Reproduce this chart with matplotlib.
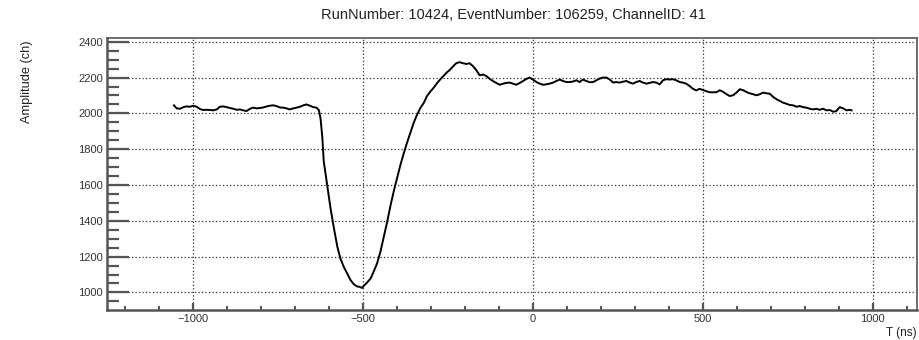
import matplotlib
matplotlib.use("Agg")
import matplotlib.pyplot as plt
from matplotlib.ticker import MultipleLocator

plt.rcParams['font.family'] = ['Liberation Sans', 'DejaVu Sans']

# ---- data ----
t_base = [-1057, -1049, -1039, -1029, -1020, -1010, -1000, -990, -980, -971, -961, -951, -941, -931,
          -922, -912, -902, -892, -882, -872, -863, -853, -843, -833, -823, -814, -804, -794, -784,
          -774, -765, -755, -745, -735, -725, -716, -706, -696, -686, -676, -667, -657, -647, -637]
a_base = [2045, 2028, 2026, 2035, 2039, 2037, 2043, 2037, 2024, 2019, 2020, 2019, 2017, 2022,
          2037, 2039, 2035, 2030, 2026, 2020, 2022, 2017, 2013, 2026, 2032, 2028, 2030, 2033, 2039,
          2043, 2045, 2041, 2033, 2032, 2028, 2022, 2028, 2032, 2037, 2045, 2050, 2043, 2035, 2032]

t_pulse = [-630, -625, -620, -616, -606, -596, -586, -576, -567, -557, -547, -537, -527, -518,
           -508, -503, -498, -488, -478, -469, -459, -449, -439, -429, -420, -410, -400, -390,
           -380, -371, -361, -351, -341, -331, -321, -312, -302, -292, -282, -272, -263, -253]
a_pulse = [2017, 1966, 1863, 1733, 1602, 1471, 1359, 1256, 1190, 1143, 1106, 1069, 1045, 1034,
           1030, 1025, 1037, 1056, 1078, 1116, 1162, 1228, 1312, 1396, 1480, 1564, 1639, 1714,
           1779, 1835, 1892, 1948, 1994, 2032, 2060, 2097, 2122, 2144, 2170, 2192, 2210, 2230]

t_peak = [-245, -236, -226, -216, -206, -196, -187, -177, -167, -157, -147, -137, -128, -118,
          -108, -98, -88, -79, -69, -59, -49, -39, -29, -20, -10, 0, 10, 20, 29, 39, 49, 59, 69,
          79, 88, 98]
a_peak = [2242, 2261, 2280, 2286, 2280, 2276, 2280, 2265, 2242, 2213, 2217, 2208, 2194, 2181,
          2170, 2160, 2166, 2170, 2172, 2166, 2160, 2170, 2181, 2192, 2200, 2189, 2175, 2166,
          2160, 2162, 2166, 2172, 2181, 2189, 2181, 2175]

t_tail = [108, 118, 128, 137, 147, 157, 167, 177, 187, 196, 206, 216, 226, 236, 245, 255, 265,
          275, 285, 294, 304, 314, 324, 334, 343, 353, 363, 373, 383, 392, 402, 412, 422, 432,
          441, 451, 461, 471, 481, 490, 500, 510, 520, 530, 540]
a_tail = [2175, 2178, 2185, 2175, 2189, 2181, 2174, 2175, 2185, 2194, 2200, 2200, 2189, 2172,
          2175, 2172, 2177, 2181, 2172, 2166, 2175, 2181, 2172, 2166, 2170, 2175, 2172, 2162,
          2185, 2191, 2189, 2191, 2185, 2175, 2172, 2166, 2153, 2137, 2128, 2137, 2131, 2124,
          2118, 2118, 2118]

t_end = [550, 560, 570, 579, 589, 599, 609, 619, 628, 638, 648, 658, 668, 677, 687, 697, 707,
         717, 727, 736, 746, 756, 766, 776, 785, 795, 805, 815, 825, 834, 844, 854, 864, 874,
         884, 893, 903, 913, 923, 933, 938]
a_end = [2129, 2120, 2107, 2097, 2101, 2116, 2135, 2129, 2120, 2112, 2107, 2101, 2107, 2116,
         2112, 2110, 2092, 2079, 2069, 2060, 2054, 2047, 2045, 2037, 2041, 2035, 2032, 2026,
         2022, 2026, 2020, 2026, 2017, 2019, 2009, 2013, 2035, 2028, 2017, 2020, 2017]

time_ns = t_base + t_pulse + t_peak + t_tail + t_end
amplitude = a_base + a_pulse + a_peak + a_tail + a_end

title = "RunNumber: 10424, EventNumber: 106259, ChannelID: 41"
xlabel = "T (ns)"
ylabel = "Amplitude (ch)"

# ---- figure ----
W, H = 920, 340
fig = plt.figure(figsize=(W / 100, H / 100), dpi=100)
ax = fig.add_axes([107 / W, 1 - 310 / H, (917.5 - 107) / W, (310 - 38) / H])

ax.plot(time_ns, amplitude, color='black', lw=1.4, solid_joinstyle='round')

ax.set_xlim(-1254, 1132)
ax.set_ylim(902, 2421)

ax.xaxis.set_major_locator(MultipleLocator(500))
ax.xaxis.set_minor_locator(MultipleLocator(100))
ax.yaxis.set_major_locator(MultipleLocator(200))
ax.yaxis.set_minor_locator(MultipleLocator(50))

ax.grid(True, which='major', color='#333333', linestyle=(0, (1, 1.8)), linewidth=0.9)

ax.tick_params(axis='y', which='major', direction='in', length=16, width=1.6,
               color='#555555', labelsize=8, labelcolor='#333333', pad=3,
               left=True, right=False)
ax.tick_params(axis='y', which='minor', direction='in', length=8.5, width=1.6,
               color='#555555', left=True, right=False)
ax.tick_params(axis='x', which='major', direction='in', length=5, width=1.6,
               color='#555555', labelsize=8, labelcolor='#333333', pad=3,
               bottom=True, top=False)
ax.tick_params(axis='x', which='minor', direction='in', length=3, width=1.4,
               color='#555555', bottom=True, top=False)

for side in ['left', 'bottom']:
    ax.spines[side].set_linewidth(1.8)
    ax.spines[side].set_color('#555555')
for side in ['top', 'right']:
    ax.spines[side].set_linewidth(1.2)
    ax.spines[side].set_color('#555555')

fig.text(513 / W, 1 - 15 / H, title, ha='center', va='center', fontsize=10.5, color='#222222')
fig.text(917 / W, 1 - 333 / H, xlabel, ha='right', va='center', fontsize=8.5, color='#222222')
fig.text(27 / W, 1 - 40 / H, ylabel, ha='center', va='top', rotation=90, fontsize=9.2, color='#222222')

fig.savefig('out.png', dpi=100)
